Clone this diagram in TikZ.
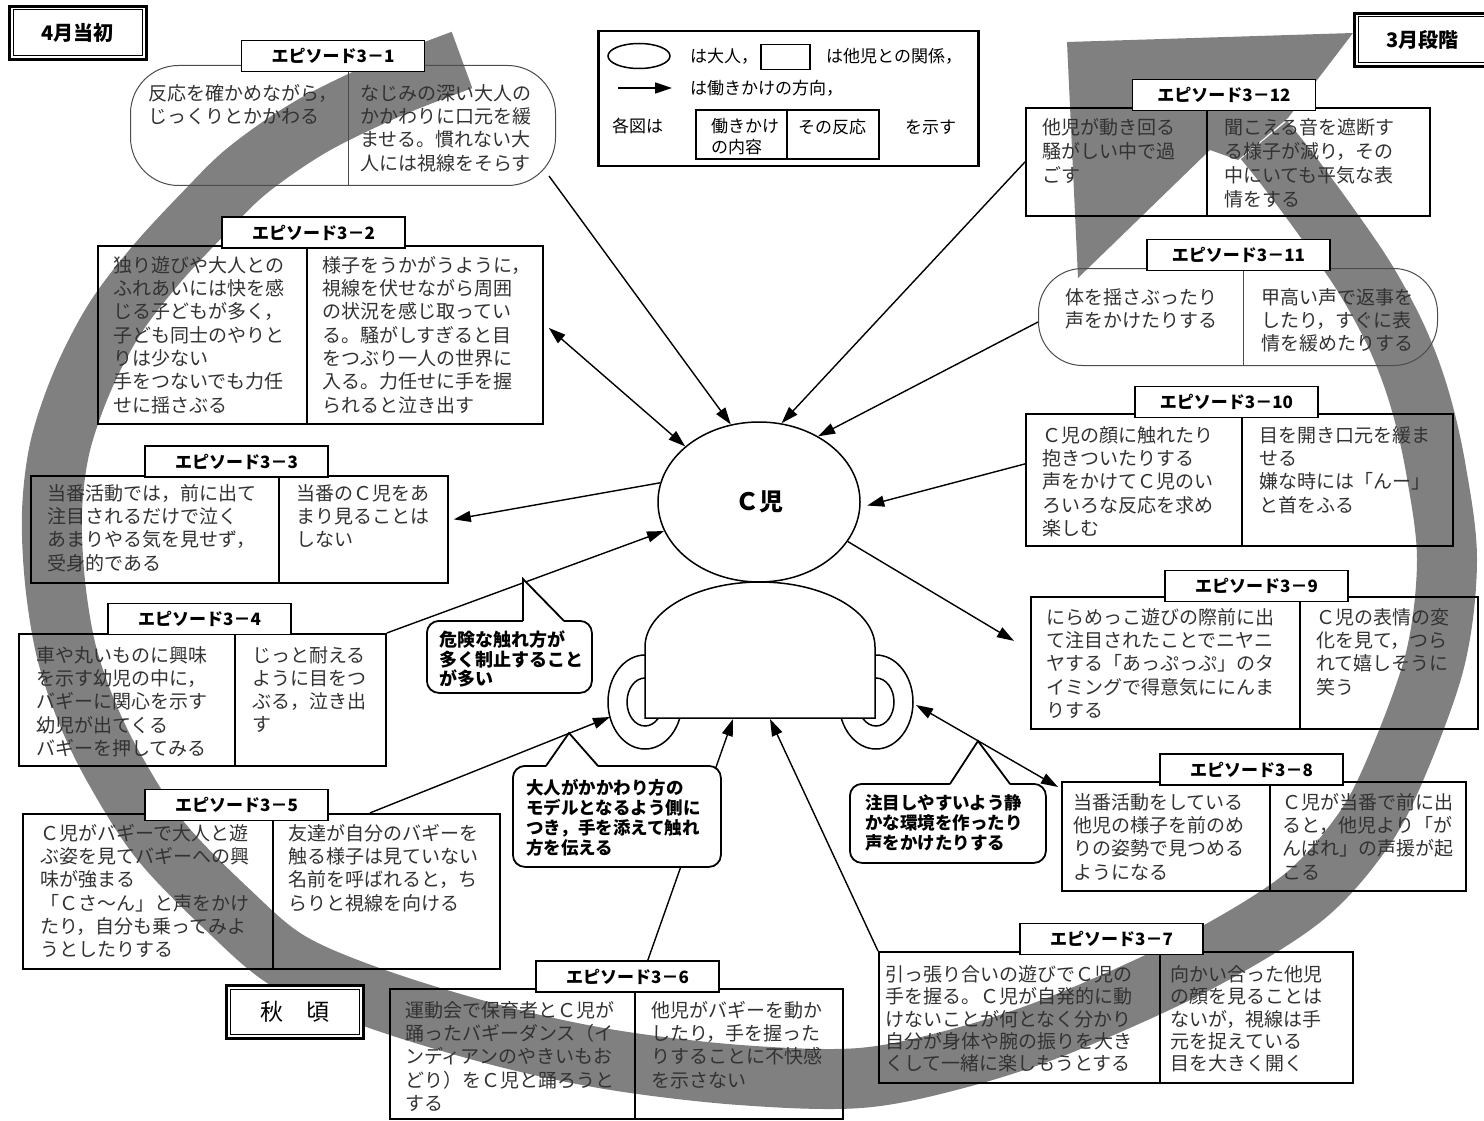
\documentclass[tikz,border=0pt]{standalone}
\usepackage{fontspec}
\setmainfont{Noto Sans CJK JP}
\usetikzlibrary{arrows.meta,shapes.geometric}
\definecolor{bandgray}{RGB}{128,128,128}
\definecolor{celltxt}{RGB}{50,50,50}

\begin{document}
\begin{tikzpicture}[x=1pt,y=-1pt,
  band/.style={draw=bandgray, line width=60pt},
  box/.style={draw, line width=1.8pt, anchor=north west, inner sep=0pt},
  rbox/.style={draw=black!70, line width=1pt, anchor=north west, inner sep=0pt},
  divider/.style={line width=1.8pt},
  rdivider/.style={line width=1pt, black!70},
  eplabel/.style={draw, fill=white, line width=1.8pt, minimum width=183pt, minimum height=31pt, inner sep=0pt,
                  font=\fontsize{17}{17}\selectfont\bfseries},
  cell/.style={anchor=north west, inner sep=0pt, align=left, text=celltxt, font=\fontsize{19}{23.3}\selectfont},
  conn/.style={line width=1.4pt},
  arr/.style={conn, -{Triangle[length=17pt,width=11pt]}},
  darr/.style={conn, {Triangle[length=17pt,width=11pt]}-{Triangle[length=17pt,width=11pt]}},
  callout/.style={draw, fill=white, line width=1.8pt, rounded corners=12pt, anchor=north west, inner sep=0pt},
  calltext/.style={anchor=north west, inner sep=0pt, align=left, font=\fontsize{17.5}{20}\selectfont\bfseries},
  pointer/.style={line width=1.8pt, line join=miter},
  stagebox/.style={draw, fill=white, line width=2.6pt, anchor=north west, inner sep=0pt, font=\fontsize{20}{20}\selectfont\bfseries},
  stageinner/.style={line width=1pt},
  legtext/.style={anchor=west, inner sep=0pt, font=\fontsize{17}{21}\selectfont},
  body/.style={draw, fill=white, line width=1.5pt}
]
\useasboundingbox (0,0) rectangle (1484,1121);
\fill[white] (0,0) rectangle (1484,1121);

% ---- seasonal band running from April round to March ----
\draw[band] plot[smooth, tension=0.55] coordinates {
  (462,60) (390,88) (312,126) (248,170) (203,214) (155,266) (114,320) (82,382)
  (60,447) (52,512) (55,582) (66,650) (86,710) (114,768) (160,840) (228,910)
  (290,962) (380,1000) (500,1036) (613,1060) (740,1075) (860,1078) (960,1058)
  (1060,1025) (1193,965) (1300,900) (1360,835) (1395,770) (1435,660) (1447,560)
  (1436,470) (1420,400) (1398,340) (1366,280) (1325,220) (1288,170) (1264,140)};
\fill[bandgray] (1067,42) -- (1353,33) -- (1288,118) -- (1238,160) -- (1210,150) -- (1078,278) -- cycle;

% ---- stage boxes ----
\node[stagebox, minimum width=137pt, minimum height=53pt] (apr) at (8,5) {4月当初};
\draw[stageinner] ([shift={(5,5)}]apr.north west) rectangle ([shift={(-5,-5)}]apr.south east);
\node[stagebox, minimum width=137pt, minimum height=53pt] (mar) at (1353,12) {3月段階};
\draw[stageinner] ([shift={(5,5)}]mar.north west) rectangle ([shift={(-5,-5)}]mar.south east);
\node[stagebox, minimum width=137pt, minimum height=53pt, font=\fontsize{23}{23}\selectfont] (aut) at (225,984) {秋　頃};
\draw[stageinner] ([shift={(5,5)}]aut.north west) rectangle ([shift={(-5,-5)}]aut.south east);

% ---- legend ----
\node[box, line width=2.5pt, minimum width=380pt, minimum height=135pt] (legend) at (597,30) {};
\node[ellipse, draw, line width=1.5pt, minimum width=62pt, minimum height=25pt, inner sep=0pt] (legell) at (639,56) {};
\node[legtext] (legt1) at (690,56) {は大人，};
\node[box, line width=1.5pt, minimum width=49pt, minimum height=25pt] (legrect) at (760,44) {};
\node[legtext] (legt2) at (826,56) {は他児との関係，};
\coordinate (la1) at (618,88);
\coordinate (la2) at (672,88);
\draw[arr] (la1) -- (la2);
\node[legtext] (legt3) at (690,88) {は働きかけの方向，};
\node[legtext] (legt4) at (612,126) {各図は};
\node[box, minimum width=183pt, minimum height=49pt] (legsplit) at (695,109) {};
\draw[divider] (787,109) -- (787,158);
\node[legtext, anchor=north west, align=left] (legt5) at (711,118) {働きかけ\\の内容};
\node[legtext] (legt6) at (798,127) {その反応};
\node[legtext] (legt7) at (905,127) {を示す};

% ---- episode 3-1 ----
\node[rbox, rounded corners=48pt, minimum width=425pt, minimum height=120pt] (e1) at (130,65) {};
\draw[rdivider] (348,65) -- (348,185);
\node[cell] (t1a) at (148,84) {反応を確かめながら，\\じっくりとかかわる};
\node[cell] (t1b) at (360,84) {なじみの深い大人の\\かかわりに口元を緩\\ませる。慣れない大\\人には視線をそらす};

% ---- episode 3-2 ----
\node[box, minimum width=445pt, minimum height=178pt] (e2) at (97,245) {};
\draw[divider] (307,245) -- (307,423);
\node[cell] (t2a) at (113,256) {独り遊びや大人との\\ふれあいには快を感\\じる子どもが多く，\\子ども同士のやりと\\りは少ない\\手をつないでも力任\\せに揺さぶる};
\node[cell] (t2b) at (322,256) {様子をうかがうように，\\視線を伏せながら周囲\\の状況を感じ取ってい\\る。騒がしすぎると目\\をつぶり一人の世界に\\入る。力任せに手を握\\られると泣き出す};

% ---- episode 3-3 ----
\node[box, minimum width=417pt, minimum height=107pt] (e3) at (30,475) {};
\draw[divider] (279,475) -- (279,582);
\node[cell] (t3a) at (47,484) {当番活動では，前に出て\\注目されるだけで泣く\\あまりやる気を見せず，\\受身的である};
\node[cell] (t3b) at (296,484) {当番のＣ児をあ\\まり見ることは\\しない};

% ---- episode 3-4 ----
\node[box, minimum width=367pt, minimum height=132pt] (e4) at (18,633) {};
\draw[divider] (235,633) -- (235,765);
\node[cell] (t4a) at (36,646) {車や丸いものに興味\\を示す幼児の中に，\\バギーに関心を示す\\幼児が出てくる\\バギーを押してみる};
\node[cell] (t4b) at (252,646) {じっと耐える\\ように目をつ\\ぶる，泣き出\\す};

% ---- episode 3-5 ----
\node[box, minimum width=477pt, minimum height=155pt] (e5) at (22,813) {};
\draw[divider] (273,813) -- (273,968);
\node[cell] (t5a) at (40,824) {Ｃ児がバギーで大人と遊\\ぶ姿を見てバギーへの興\\味が強まる\\「Ｃさ～ん」と声をかけ\\たり，自分も乗ってみよ\\うとしたりする};
\node[cell] (t5b) at (288,824) {友達が自分のバギーを\\触る様子は見ていない\\名前を呼ばれると，ち\\らりと視線を向ける};

% ---- episode 3-6 ----
\node[box, minimum width=453pt, minimum height=130pt] (e6) at (389,988) {};
\draw[divider] (635,988) -- (635,1118);
\node[cell] (t6a) at (405,1001) {運動会で保育者とＣ児が\\踊ったバギーダンス（イ\\ンディアンのやきいもお\\どり）をＣ児と踊ろうと\\する};
\node[cell] (t6b) at (651,1001) {他児がバギーを動か\\したり，手を握った\\りすることに不快感\\を示さない};

% ---- episode 3-7 ----
\node[box, minimum width=474pt, minimum height=131pt] (e7) at (878,951) {};
\draw[divider] (1160,951) -- (1160,1082);
\node[cell, font=\fontsize{19}{22.4}\selectfont] (t7a) at (885,965) {引っ張り合いの遊びでＣ児の\\手を握る。Ｃ児が自発的に動\\けないことが何となく分かり\\自分が身体や腕の振りを大き\\くして一緒に楽しもうとする};
\node[cell, font=\fontsize{19}{22.4}\selectfont] (t7b) at (1170,965) {向かい合った他児\\の顔を見ることは\\ないが，視線は手\\元を捉えている\\目を大きく開く};

% ---- episode 3-8 ----
\node[box, minimum width=404pt, minimum height=109pt] (e8) at (1061,781) {};
\draw[divider] (1270,781) -- (1270,890);
\node[cell] (t8a) at (1073,793) {当番活動をしている\\他児の様子を前のめ\\りの姿勢で見つめる\\ようになる};
\node[cell] (t8b) at (1282,793) {Ｃ児が当番で前に出\\ると，他児より「が\\んばれ」の声援が起\\こる};

% ---- episode 3-9 ----
\node[box, minimum width=447pt, minimum height=132pt] (e9) at (1030,596) {};
\draw[divider] (1300,596) -- (1300,728);
\node[cell] (t9a) at (1046,608) {にらめっこ遊びの際前に出\\て注目されたことでニヤニ\\ヤする「あっぷっぷ」のタ\\イミングで得意気ににんま\\りする};
\node[cell] (t9b) at (1316,608) {Ｃ児の表情の変\\化を見て，つら\\れて嬉しそうに\\笑う};

% ---- episode 3-10 ----
\node[box, minimum width=427pt, minimum height=132pt] (e10) at (1025,413) {};
\draw[divider] (1242,413) -- (1242,545);
\node[cell] (t10a) at (1042,426) {Ｃ児の顔に触れたり\\抱きついたりする\\声をかけてＣ児のい\\ろいろな反応を求め\\楽しむ};
\node[cell] (t10b) at (1259,426) {目を開き口元を緩ま\\せる\\嫌な時には「んー」\\と首をふる};

% ---- episode 3-11 ----
\node[rbox, rounded corners=44pt, minimum width=399pt, minimum height=97pt] (e11) at (1038,268) {};
\draw[rdivider] (1243,268) -- (1243,365);
\node[cell] (t11a) at (1065,288) {体を揺さぶったり\\声をかけたりする};
\node[cell] (t11b) at (1261,288) {甲高い声で返事を\\したり，すぐに表\\情を緩めたりする};

% ---- episode 3-12 ----
\node[box, minimum width=404pt, minimum height=108pt] (e12) at (1025,107) {};
\draw[divider] (1207,107) -- (1207,215);
\node[cell, font=\fontsize{19}{24}\selectfont] (t12a) at (1042,118) {他児が動き回る\\騒がしい中で過\\ごす};
\node[cell, font=\fontsize{19}{24}\selectfont] (t12b) at (1224,118) {聞こえる音を遮断す\\る様子が減り，その\\中にいても平気な表\\情をする};

% ---- the child: head, body and wheels ----
\draw[body] (645,702) ellipse [x radius=37pt, y radius=47pt];
\draw[body] (645,702) ellipse [x radius=18pt, y radius=24pt];
\draw[body] (876,702) ellipse [x radius=37pt, y radius=47pt];
\draw[body] (876,702) ellipse [x radius=18pt, y radius=24pt];
\draw[body] (645,718) -- (645,647) arc[start angle=180, end angle=0, x radius=115pt, y radius=65pt] -- (875,718) -- cycle;
\node[ellipse, draw, fill=white, line width=1.5pt, minimum width=202pt, minimum height=160pt, inner sep=0pt,
      font=\fontsize{24}{24}\selectfont\bfseries] (child) at (759,502) {Ｃ児};
\coordinate (lw) at (610,717);
\coordinate (bm1) at (733,719);
\coordinate (bm2) at (770,719);
\coordinate (rw) at (916,705);

% ---- connectors ----
\draw[arr] ([shift={(-7,-10)}]e1.south east) -- (child.110);
\draw[arr] (e12.west) -- (child.74);
\draw[arr] ([yshift=-5pt]e11.west) -- (child.48);
\draw[arr, shorten >=7pt] ([yshift=16pt]e10.west) -- (child.-3);
\draw[arr] (child.-24) -- ([shift={(-16,-22)}]e9.west);
\draw[darr] ([shift={(5,-7)}]e2.east) -- (child.143.5);
\draw[arr] (child.169) -- ([shift={(5,-10)}]e3.east);
\draw[arr] (e4.north east) -- (child.197);
\draw[arr] ([xshift=-131pt]e5.north east) -- (lw);
\draw[arr] ([xshift=5pt]e6.north -| 633,0) -- (bm1);
\draw[arr] (e7.north west) -- (bm2);
\draw[darr] (rw) -- ([shift={(-3,6)}]e8.north west);

% ---- episode labels ----
\node[eplabel] (l1) at (333,56) {エピソード3－1};
\node[eplabel] (l2) at (313.5,232.5) {エピソード3－2};
\node[eplabel] (l3) at (236.5,461.5) {エピソード3－3};
\node[eplabel] (l4) at (199.5,619) {エピソード3－4};
\node[eplabel] (l5) at (236.5,805) {エピソード3－5};
\node[eplabel] (l6) at (627.5,976.5) {エピソード3－6};
\node[eplabel] (l7) at (1111.5,939) {エピソード3－7};
\node[eplabel] (l8) at (1251.5,769.5) {エピソード3－8};
\node[eplabel] (l9) at (1256.5,586) {エピソード3－9};
\node[eplabel] (l10) at (1226.5,402) {エピソード3－10};
\node[eplabel] (l11) at (1238.5,255) {エピソード3－11};
\node[eplabel] (l12) at (1224,95) {エピソード3－12};

% ---- callouts ----
\node[callout, minimum width=165pt, minimum height=72pt] (ca) at (426,620) {};
\coordinate (capx) at (523,579);
\fill[white] (523,622) -- (capx) -- (564,622) -- cycle;
\draw[pointer] (523,620.9) -- (capx) -- (564,620.9);
\node[calltext, font=\fontsize{18}{19.5}\selectfont\bfseries] (cat) at (439,631) {危険な触れ方が\\多く制止すること\\が多い};

\node[callout, minimum width=208pt, minimum height=101pt] (cb) at (512,765) {};
\coordinate (cbpx) at (569,733);
\fill[white] (546,767) -- (cbpx) -- (598,767) -- cycle;
\draw[pointer] (546,765.9) -- (cbpx) -- (598,765.9);
\node[calltext] (cbt) at (526,779) {大人がかかわり方の\\モデルとなるよう側に\\つき，手を添えて触れ\\方を伝える};

\node[callout, minimum width=196pt, minimum height=79pt] (cc) at (849,783) {};
\coordinate (ccpx) at (978,741);
\fill[white] (950,785) -- (ccpx) -- (1010,785) -- cycle;
\draw[pointer] (950,783.9) -- (ccpx) -- (1010,783.9);
\node[calltext] (cct) at (865,794) {注目しやすいよう静\\かな環境を作ったり\\声をかけたりする};
\end{tikzpicture}
\end{document}
